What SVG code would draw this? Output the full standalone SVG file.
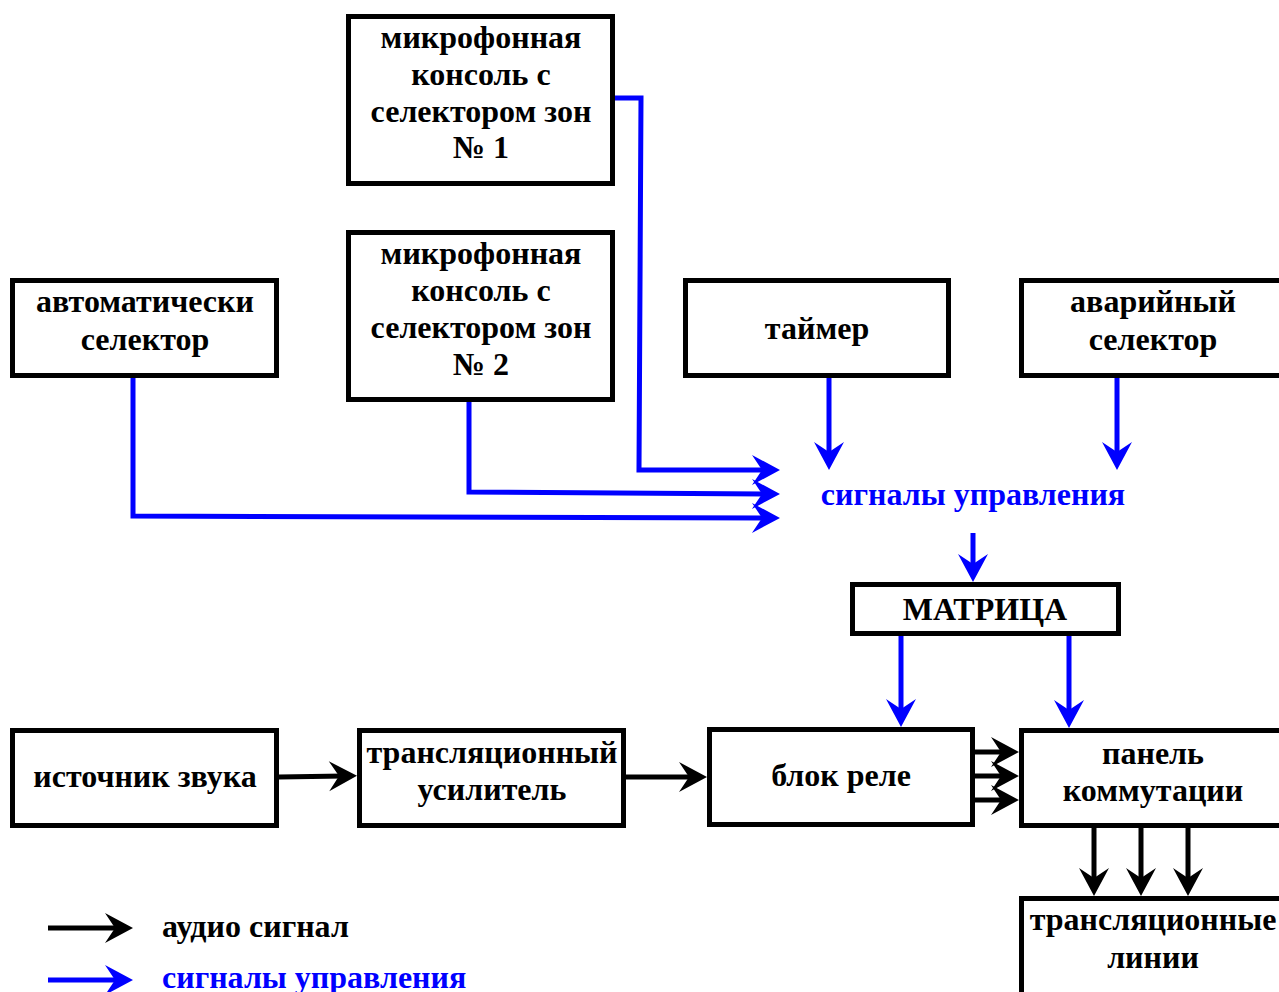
<svg xmlns="http://www.w3.org/2000/svg" width="1279" height="992" viewBox="0 0 1279 992">
<style>
.box{fill:#fff;stroke:#000;stroke-width:5}
.t{font-family:"Liberation Serif","Times New Roman",serif;font-weight:bold;font-size:32px;fill:#000;text-anchor:middle}
.tb{fill:#0000ff}
.lt{text-anchor:start}
.cb{fill:none;stroke:#0000ff;stroke-width:5;stroke-linejoin:miter}
.ck{fill:none;stroke:#000;stroke-width:5}
</style>
<defs>
<marker id="ab" markerUnits="userSpaceOnUse" markerWidth="30" markerHeight="32" viewBox="0 -16 28 32" refX="15" refY="0" orient="auto">
<path d="M0,-15 L28,0 L0,15 L10,0 Z" fill="#0000ff"/>
</marker>
<marker id="ak" markerUnits="userSpaceOnUse" markerWidth="30" markerHeight="32" viewBox="0 -16 28 32" refX="15" refY="0" orient="auto">
<path d="M0,-15 L28,0 L0,15 L10,0 Z" fill="#000"/>
</marker>
</defs>
<rect width="1279" height="992" fill="#fff"/>

<g id="connectors">
<path class="cb" d="M615,98 L641,98 L639,470 L767,470" marker-end="url(#ab)"/>
<path class="cb" d="M469,401 L469,492 L767,494" marker-end="url(#ab)"/>
<path class="cb" d="M133,378 L133,516 L767,518" marker-end="url(#ab)"/>
<path class="cb" d="M829,378 L829,457" marker-end="url(#ab)"/>
<path class="cb" d="M1117,378 L1117,457" marker-end="url(#ab)"/>
<path class="cb" d="M973,533 L973,569" marker-end="url(#ab)"/>
<path class="cb" d="M901,634 L901,714" marker-end="url(#ab)"/>
<path class="cb" d="M1069,634 L1069,715" marker-end="url(#ab)"/>
<path class="ck" d="M279,777 L344,776" marker-end="url(#ak)"/>
<path class="ck" d="M626,777 L694,777" marker-end="url(#ak)"/>
<path class="ck" d="M975,752 L1006,752" marker-end="url(#ak)"/>
<path class="ck" d="M975,776 L1006,776" marker-end="url(#ak)"/>
<path class="ck" d="M975,800 L1006,800" marker-end="url(#ak)"/>
<path class="ck" d="M1094,828 L1094,883" marker-end="url(#ak)"/>
<path class="ck" d="M1141,828 L1141,883" marker-end="url(#ak)"/>
<path class="ck" d="M1188,828 L1188,883" marker-end="url(#ak)"/>
<path class="ck" d="M48,928 L120,928" marker-end="url(#ak)"/>
<path class="cb" d="M48,980 L120,980" marker-end="url(#ab)"/>
</g>

<g id="mic1">
<rect class="box" x="348.5" y="16.5" width="264" height="167"/>
<text class="t" x="481" y="48">микрофонная</text>
<text class="t" x="481" y="85">консоль с</text>
<text class="t" x="481" y="122">селектором зон</text>
<text class="t" x="481" y="158">№ 1</text>
</g>
<g id="mic2">
<rect class="box" x="348.5" y="232.5" width="264" height="167"/>
<text class="t" x="481" y="264">микрофонная</text>
<text class="t" x="481" y="301">консоль с</text>
<text class="t" x="481" y="338">селектором зон</text>
<text class="t" x="481" y="375">№ 2</text>
</g>
<g id="auto">
<rect class="box" x="12.5" y="280.5" width="264" height="95"/>
<text class="t" x="145" y="312">автоматически</text>
<text class="t" x="145" y="350">селектор</text>
</g>
<g id="timer">
<rect class="box" x="685.5" y="280.5" width="263" height="95"/>
<text class="t" x="817" y="339">таймер</text>
</g>
<g id="emergency">
<rect class="box" x="1021.5" y="280.5" width="270" height="95"/>
<text class="t" x="1153" y="312">аварийный</text>
<text class="t" x="1153" y="350">селектор</text>
</g>
<g id="signals">
<text class="t tb" x="973" y="505">сигналы управления</text>
</g>
<g id="matrix">
<rect class="box" x="852.5" y="584.5" width="266" height="49"/>
<text class="t" x="985" y="620">МАТРИЦА</text>
</g>
<g id="source">
<rect class="box" x="12.5" y="730.5" width="264" height="95"/>
<text class="t" x="145" y="787">источник звука</text>
</g>
<g id="amp">
<rect class="box" x="359.5" y="730.5" width="264" height="95"/>
<text class="t" x="492" y="763">трансляционный</text>
<text class="t" x="492" y="800">усилитель</text>
</g>
<g id="relay">
<rect class="box" x="709.5" y="729.5" width="263" height="95"/>
<text class="t" x="841" y="786">блок реле</text>
</g>
<g id="panel">
<rect class="box" x="1021.5" y="730.5" width="270" height="95"/>
<text class="t" x="1153" y="764">панель</text>
<text class="t" x="1153" y="801">коммутации</text>
</g>
<g id="lines">
<rect class="box" x="1021.5" y="898.5" width="270" height="110"/>
<text class="t" x="1153" y="930">трансляционные</text>
<text class="t" x="1153" y="968">линии</text>
</g>
<g id="legend">
<text class="t lt" x="162" y="937">аудио сигнал</text>
<text class="t tb lt" x="162" y="988">сигналы управления</text>
</g>
</svg>
